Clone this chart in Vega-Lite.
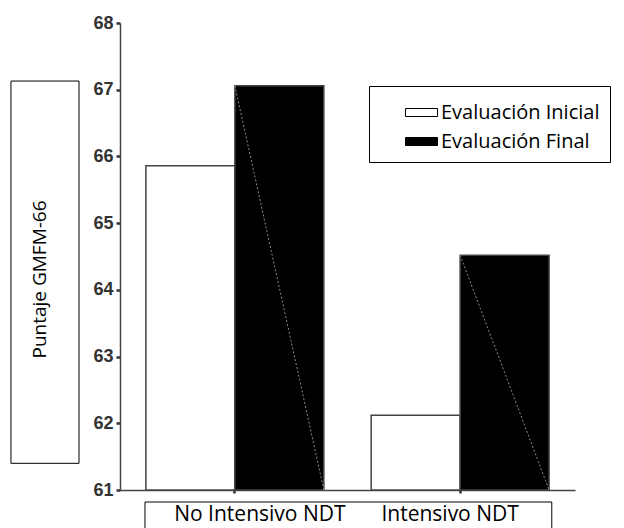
{
  "$schema": "https://vega.github.io/schema/vega-lite/v6.json",
  "autosize": "none",
  "width": 455,
  "height": 467,
  "padding": {"left": 120, "top": 23, "right": 49, "bottom": 38},
  "background": "white",
  "config": {"view": {"stroke": null}},
  "datasets": {
    "gmfm": [
      {"grupo": "No Intensivo NDT", "evaluacion": "Evaluación Inicial", "puntaje": 65.86},
      {"grupo": "No Intensivo NDT", "evaluacion": "Evaluación Final", "puntaje": 67.06},
      {"grupo": "Intensivo NDT", "evaluacion": "Evaluación Inicial", "puntaje": 62.12},
      {"grupo": "Intensivo NDT", "evaluacion": "Evaluación Final", "puntaje": 64.52}
    ]
  },
  "resolve": {"scale": {"x": "independent"}},
  "layer": [
    {
      "data": {"name": "gmfm"},
      "encoding": {
        "x": {
          "field": "grupo",
          "type": "nominal",
          "sort": ["No Intensivo NDT", "Intensivo NDT"],
          "scale": {"domain": ["No Intensivo NDT", "Intensivo NDT"], "paddingInner": 0.21, "paddingOuter": 0.115},
          "axis": {
            "title": null,
            "labelAngle": 0,
            "labelFont": "Open Sans",
            "labelFontSize": 21,
            "labelColor": "#000",
            "labelPadding": 10,
            "labelOffset": {"condition": {"test": "datum.value === 'No Intensivo NDT'", "value": 25}, "value": -10},
            "tickSize": 3,
            "tickWidth": 2.5,
            "tickColor": "#333",
            "domainColor": "#444",
            "domainWidth": 1.5,
            "grid": false
          }
        },
        "y": {
          "field": "puntaje",
          "type": "quantitative",
          "scale": {"domain": [61, 68], "zero": false, "nice": false},
          "axis": {
            "values": [61, 62, 63, 64, 65, 66, 67, 68],
            "format": "d",
            "grid": false,
            "title": "Puntaje GMFM-66",
            "titleFont": "Open Sans",
            "titleFontSize": 19,
            "titleFontWeight": "normal",
            "titleColor": "#000",
            "titleX": -71,
            "titleY": 256,
            "labelFont": "Liberation Sans",
            "labelFontWeight": "bold",
            "labelFontSize": 18,
            "labelColor": "#333",
            "labelPadding": 3,
            "tickSize": 4,
            "tickWidth": 2.5,
            "tickColor": "#333",
            "domainColor": "#444",
            "domainWidth": 1.5
          }
        }
      },
      "layer": [
        {
          "mark": {"type": "bar", "stroke": "#444", "strokeWidth": 1.5},
          "encoding": {
            "xOffset": {
              "field": "evaluacion",
              "type": "nominal",
              "sort": ["Evaluación Inicial", "Evaluación Final"],
              "scale": {"domain": ["Evaluación Inicial", "Evaluación Final"], "paddingInner": 0, "paddingOuter": 0}
            },
            "y2": {"datum": 61},
            "fill": {
              "field": "evaluacion",
              "type": "nominal",
              "sort": ["Evaluación Inicial", "Evaluación Final"],
              "scale": {"domain": ["Evaluación Inicial", "Evaluación Final"], "range": ["#ffffff", "#000000"]},
              "legend": {
                "title": null,
                "orient": "none",
                "legendX": 249,
                "legendY": 63,
                "strokeColor": "#000",
                "padding": 10,
                "symbolOffset": 26,
                "symbolType": "M-1,-0.25H1V0.25H-1Z",
                "symbolSize": 1024,
                "symbolStrokeColor": "#000",
                "symbolStrokeWidth": 1,
                "labelFont": "Open Sans",
                "labelFontSize": 20,
                "labelColor": "#000",
                "labelOffset": 3,
                "rowPadding": 2,
                "labelLimit": 300
              }
            }
          }
        },
        {
          "transform": [{"filter": "datum.evaluacion === 'Evaluación Final'"}],
          "mark": {"type": "rule", "color": "#8a8a8a", "strokeWidth": 1, "strokeDash": [2, 2]},
          "encoding": {
            "x": {"field": "grupo", "type": "nominal", "bandPosition": 0.5},
            "x2": {"field": "grupo", "bandPosition": 1},
            "y2": {"datum": 61}
          }
        }
      ]
    },
    {
      "data": {"values": [{"marco": "titulo"}]},
      "mark": {"type": "rect", "fill": null, "stroke": "#000", "strokeWidth": 1, "clip": false},
      "encoding": {
        "x": {"datum": -0.2396, "type": "quantitative", "scale": {"domain": [0, 1], "nice": false, "zero": false}, "axis": null},
        "x2": {"datum": -0.0901},
        "y": {"datum": 67.13, "type": "quantitative"},
        "y2": {"datum": 61.4}
      }
    },
    {
      "data": {"values": [{"marco": "etiquetas"}]},
      "mark": {"type": "rect", "fill": null, "stroke": "#000", "strokeWidth": 1, "clip": false},
      "encoding": {
        "x": {"datum": 0.0549, "type": "quantitative", "scale": {"domain": [0, 1], "nice": false, "zero": false}, "axis": null},
        "x2": {"datum": 0.949},
        "y": {"datum": 60.82, "type": "quantitative"},
        "y2": {"datum": 60.3}
      }
    }
  ]
}
